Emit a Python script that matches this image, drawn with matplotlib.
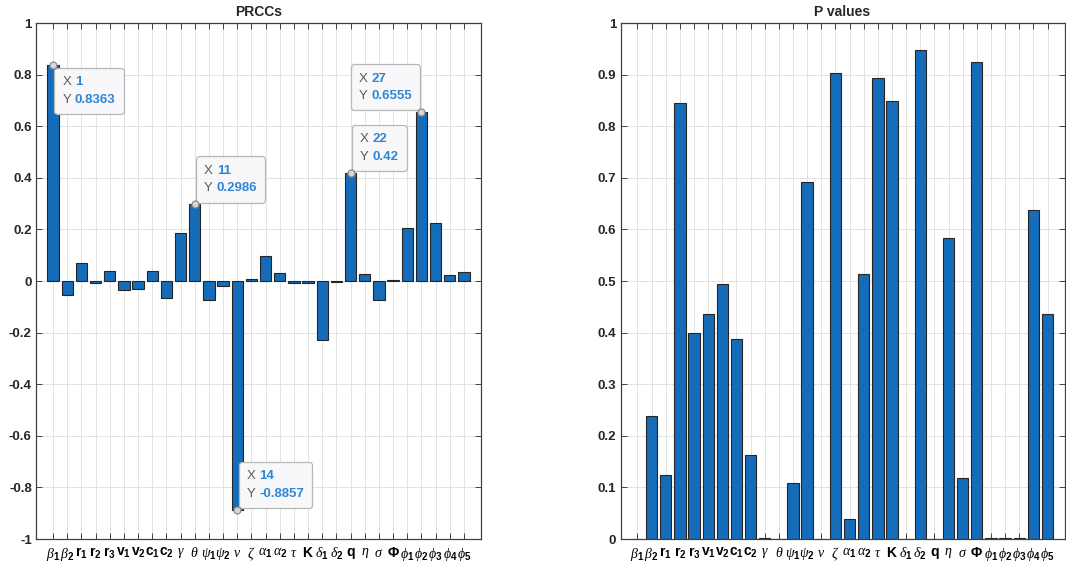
import matplotlib
matplotlib.use("Agg")
import matplotlib.pyplot as plt
from matplotlib.offsetbox import TextArea, HPacker, VPacker, AnnotationBbox

plt.rcParams['font.family'] = ['Liberation Sans', 'DejaVu Sans']
plt.rcParams['axes.unicode_minus'] = False
plt.rcParams['mathtext.fontset'] = 'custom'
plt.rcParams['mathtext.rm'] = 'Liberation Sans:bold'
plt.rcParams['mathtext.it'] = 'Liberation Serif:italic'
plt.rcParams['mathtext.bf'] = 'Liberation Sans:bold'

# parameter names
labels = [r'$\beta_1$', r'$\beta_2$', r'$\mathrm{r}_1$', r'$\mathrm{r}_2$', r'$\mathrm{r}_3$',
          r'$\mathrm{v}_1$', r'$\mathrm{v}_2$', r'$\mathrm{c}_1$', r'$\mathrm{c}_2$', r'$\gamma$',
          r'$\theta$', r'$\psi_1$', r'$\psi_2$', r'$\nu$', r'$\zeta$',
          r'$\alpha_1$', r'$\alpha_2$', r'$\tau$', r'$\mathrm{K}$', r'$\delta_1$',
          r'$\delta_2$', r'$\mathrm{q}$', r'$\eta$', r'$\sigma$', r'$\Phi$',
          r'$\phi_1$', r'$\phi_2$', r'$\phi_3$', r'$\phi_4$', r'$\phi_5$']
idx = list(range(1, 31))

prcc = [0.8363, -0.055, 0.071, -0.009, 0.039, -0.036, -0.032, 0.040, -0.066, 0.185,
        0.2986, -0.075, -0.019, -0.8857, 0.006, 0.096, 0.030, -0.008, -0.009, -0.227,
        -0.004, 0.42, 0.026, -0.072, 0.005, 0.205, 0.6555, 0.225, 0.022, 0.036]

pvals = [0.0, 0.238, 0.125, 0.844, 0.399, 0.436, 0.494, 0.3875, 0.162, 0.001,
         0.0, 0.109, 0.691, 0.0, 0.904, 0.039, 0.513, 0.893, 0.849, 0.0,
         0.947, 0.0, 0.5825, 0.118, 0.924, 0.001, 0.001, 0.001, 0.638, 0.4355]

# data tips on the PRCC plot: index, placement
tips = [(1, 'lr'), (11, 'ur'), (14, 'ur'), (22, 'ur'), (27, 'ul')]

bar_color = '#156cb8'
edge_color = '#262626'

fig = plt.figure(figsize=(10.66, 5.72), dpi=100)
ax1 = fig.add_axes([36/1066, 33/572, 445/1066, 516/572])
ax2 = fig.add_axes([620.5/1066, 33/572, 444/1066, 516/572])


def style(ax, yticks, title):
    ax.set_xlim(-0.2, 31.2)
    ax.set_xticks(idx)
    ax.set_xticklabels(labels, fontsize=10)
    ax.set_yticks(yticks)
    ax.set_yticklabels(['%g' % round(t, 1) for t in yticks], fontsize=9.5, fontweight='bold', color='#262626')
    ax.tick_params(direction='in', top=True, right=True, length=4, width=0.7, color='#404040', pad=3)
    ax.tick_params(axis='x', pad=5)
    ax.grid(True, color='#e2e2e2', lw=0.7)
    ax.set_axisbelow(True)
    for s in ax.spines.values():
        s.set_color('#404040')
        s.set_linewidth(0.9)
    ax.set_title(title, fontsize=10, fontweight='bold', color='#262626', pad=5)


ax1.bar(idx, prcc, width=0.8, color=bar_color, edgecolor=edge_color, linewidth=0.8)
ax1.set_ylim(-1, 1)
style(ax1, [-1 + 0.2 * i for i in range(11)], 'PRCCs')

ax2.bar(idx, pvals, width=0.8, color=bar_color, edgecolor=edge_color, linewidth=0.8)
ax2.set_ylim(0, 1)
style(ax2, [0.1 * i for i in range(11)], 'P values')

# data tips
tp_lab = dict(color='#5a5a5a', fontsize=9.5, family='Liberation Sans')
tp_val = dict(color='#2f86d6', fontsize=9.5, fontweight='bold', family='Liberation Sans')
align = {'lr': ((0, 1), (1, -2)), 'ur': ((0, 0), (1, 1)), 'ul': ((1, 0), (-1, 1))}
for i, place in tips:
    y = prcc[i - 1]
    rows = [HPacker(children=[TextArea('X ', textprops=tp_lab), TextArea('%d' % i, textprops=tp_val)], pad=0, sep=0),
            HPacker(children=[TextArea('Y ', textprops=tp_lab), TextArea('%g' % y, textprops=tp_val)], pad=0, sep=0)]
    box = VPacker(children=rows, pad=6, sep=4, align='left')
    ba, off = align[place]
    ab = AnnotationBbox(box, (i, y), xybox=off, xycoords='data', boxcoords='offset points',
                        box_alignment=ba, pad=0, frameon=True,
                        bboxprops=dict(boxstyle='round,pad=0,rounding_size=0.25', fc='#f8f8fa', ec='#b8b8b8', lw=0.9))
    ab.set_zorder(6)
    ax1.add_artist(ab)
    ax1.plot(i, y, 'o', ms=5, mfc='#d8d8d8', mec='#8c8c8c', mew=0.9, zorder=7, clip_on=False)

fig.savefig('out.png', dpi=100)
